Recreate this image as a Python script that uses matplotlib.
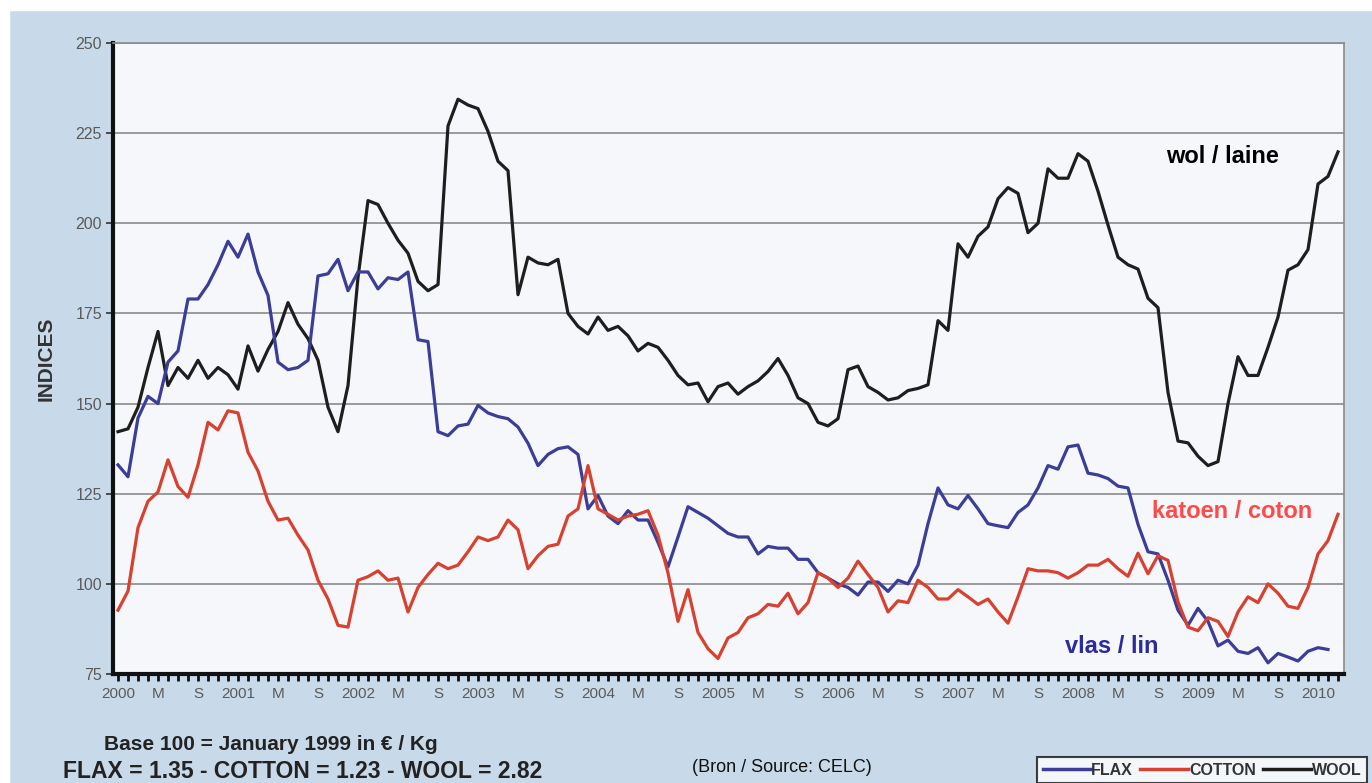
import numpy as np
import matplotlib.pyplot as plt
from matplotlib.patches import Rectangle
from matplotlib.lines import Line2D

plt.rcParams['font.family'] = ['Liberation Sans', 'DejaVu Sans']

# monthly index values, month 0 = January 2000
flax = [133, 129.7, 146, 152, 150, 161.5, 164.6, 179, 179, 183, 188.5, 195, 190.6, 197, 186.5, 180, 161.5, 159.4, 160, 162, 185.4,
        186, 190, 181.3, 186.5, 186.5, 181.8, 184.9, 184.4, 186.5, 167.7, 167.2, 142.2, 141.1, 143.8, 144.3, 149.5, 147.4, 146.4, 145.8, 143.5,
        139, 132.8, 135.9, 137.5, 138, 135.9, 120.8, 124.5, 118.8, 116.7, 120.3, 117.7, 117.7, 111.5, 104.7, 113, 121.4, 119.8, 118.2, 116.1, 114,
        113, 113, 108.3, 110.4, 109.9, 109.9, 106.8, 106.8, 103.1, 101.6, 100, 99, 96.9, 100.5, 100.5, 97.9, 101, 100, 105.2, 116.7,
        126.6, 121.9, 120.8, 124.5, 120.8, 116.7, 116.1, 115.6, 119.8, 121.9, 126.6, 132.8, 131.8, 138, 138.5, 130.7, 130.2, 129.2, 127.1, 126.6, 116.5,
        108.9, 108.3, 101, 92.7, 88.5, 93.2, 89.6, 82.8, 84.4, 81.3, 80.7, 82.3, 78.1, 80.7, 79.7, 78.6, 81.3, 82.3, 81.8]

cotton = [92.7, 98, 115.6, 122.9, 125.5, 134.4, 127, 124, 133, 144.8, 142.7, 148, 147.4, 136.5, 131.3, 122.9, 117.7, 118.2, 113.5, 109.4, 101,
          95.8, 88.5, 88, 101, 102, 103.6, 101, 101.6, 92.2, 99, 102.6, 105.7, 104.2, 105.2, 108.9, 113, 112, 113, 117.7, 115,
          104.2, 107.8, 110.4, 111, 118.8, 120.8, 132.8, 120.8, 119.3, 117.7, 118.8, 119.3, 120.3, 113.5, 103, 89.6, 98.4, 86.5, 82, 79.3, 85,
          86.5, 90.6, 91.7, 94.3, 93.8, 97.4, 91.7, 94.8, 103.1, 101.6, 99, 101.6, 106.3, 102.6, 99, 92.2, 95.3, 94.8, 101, 99,
          95.8, 95.8, 98.4, 96.4, 94.3, 95.8, 92.2, 89.1, 96.4, 104.2, 103.6, 103.6, 103.1, 101.6, 103.1, 105.2, 105.2, 106.8, 104.2, 102.1, 108.5,
          102.8, 107.8, 106.5, 95, 88, 87, 90.6, 89.6, 85.4, 92.2, 96.4, 94.8, 100, 97.4, 93.8, 93.2, 99, 108.3, 112, 119.3]

wool = [142.2, 143, 149, 160, 170, 155, 160, 157, 162, 157, 160, 158, 154, 166, 159, 165, 170, 178, 172, 168, 162,
        149, 142.2, 155, 185, 206.3, 205.2, 200, 195.3, 191.7, 183.9, 181.3, 183, 227, 234.4, 232.8, 231.8, 225.5, 217.2, 214.6, 180.2,
        190.6, 189, 188.5, 190, 175, 171.4, 169.3, 174, 170.3, 171.4, 168.8, 164.6, 166.7, 165.6, 162, 157.8, 155.2, 155.7, 150.5, 154.7, 155.7,
        152.6, 154.7, 156.3, 158.9, 162.5, 157.8, 151.6, 150, 144.8, 143.8, 145.8, 159.4, 160.4, 154.7, 153.1, 151, 151.6, 153.6, 154.2, 155.2,
        173, 170.3, 194.3, 190.6, 196.4, 199, 206.8, 209.9, 208.3, 197.4, 200, 215.1, 212.5, 212.5, 219.3, 217.2, 208.9, 199.5, 190.6, 188.5, 187.3,
        179.2, 176.6, 153.1, 139.6, 139.1, 135.4, 132.8, 133.9, 150, 163, 157.8, 157.8, 165.6, 174, 187, 188.5, 192.7, 210.9, 213, 219.8]

years = [str(y) for y in range(2000, 2011)]
tick_labels = []
for y in years:
    tick_labels += [y, 'M', 'S']
tick_labels = tick_labels[:31]

fig = plt.figure(figsize=(13.72, 7.83), dpi=100)
fig.patch.set_facecolor('#c8dae9')
# white margin strips of the scan
fig.patches.append(Rectangle((0, 1 - 10 / 783), 1, 10 / 783, transform=fig.transFigure, color='white', zorder=0))
fig.patches.append(Rectangle((0, 0), 9 / 1372, 1, transform=fig.transFigure, color='white', zorder=0))

ax = fig.add_axes([113 / 1372, 109 / 783, 1231 / 1372, 631 / 783])
ax.set_facecolor('#f5f7fa')

ax.plot(np.arange(len(wool)), wool, color='#1e1e1e', lw=2.3, solid_joinstyle='round', zorder=3)
ax.plot(np.arange(len(flax)), flax, color='#3b3d97', lw=2.3, solid_joinstyle='round', zorder=4)
ax.plot(np.arange(len(cotton)), cotton, color='#d8402f', lw=2.3, solid_joinstyle='round', zorder=5)

ax.set_xlim(-0.5, 122.6)
ax.set_ylim(75, 250)
ax.set_yticks(range(75, 251, 25))
ax.yaxis.grid(True, color='#8a8a8a', lw=1.2)
ax.set_axisbelow(True)

ax.set_xticks(np.arange(0, 121, 4))
ax.set_xticklabels(tick_labels)
ax.set_xticks(np.arange(0, 123, 1), minor=True)
ax.tick_params(axis='x', which='both', direction='out', length=5, width=2, color='#111111',
               labelsize=11, labelcolor='#5a5a5a', pad=4)
ax.tick_params(axis='y', direction='out', length=5, width=1.2, color='#333333',
               labelsize=11.5, labelcolor='#5a5a5a', pad=3)

ax.spines['left'].set_linewidth(3)
ax.spines['left'].set_color('#111111')
ax.spines['bottom'].set_linewidth(3)
ax.spines['bottom'].set_color('#111111')
ax.spines['top'].set_color('#8a8a8a')
ax.spines['top'].set_linewidth(1.2)
ax.spines['right'].set_color('#8a8a8a')
ax.spines['right'].set_linewidth(1.2)

ax.set_ylabel('INDICES', fontsize=15, fontweight='bold', color='#333333', labelpad=14)

ax.text(110.4, 218.4, 'wol / laine', fontsize=17, fontweight='bold', color='black', ha='center', va='center')
ax.text(111.4, 120.2, 'katoen / coton', fontsize=17, fontweight='bold', color='#ff4a4a', ha='center', va='center')
ax.text(99.4, 82.5, 'vlas / lin', fontsize=17, fontweight='bold', color='#2b2b9c', ha='center', va='center')

fig.text(271 / 1372, 1 - 745 / 783, 'Base 100 = January 1999 in € / Kg', fontsize=15,
         fontweight='bold', color='#222222', ha='center', va='center')
fig.text(303 / 1372, 1 - 772 / 783, 'FLAX = 1.35 - COTTON = 1.23 - WOOL = 2.82', fontsize=16.5,
         fontweight='bold', color='#222222', ha='center', va='center')
fig.text(782 / 1372, 1 - 768 / 783, '(Bron / Source: CELC)', fontsize=13, color='#111111',
         ha='center', va='center')

handles = [Line2D([], [], color='#3b3d97', lw=2.5),
           Line2D([], [], color='#d8402f', lw=2.5),
           Line2D([], [], color='#1e1e1e', lw=2.5)]
leg = fig.legend(handles, ['FLAX', 'COTTON', 'WOOL'], loc='upper left',
                 bbox_to_anchor=(1037 / 1372, 1 - 757 / 783), ncol=3, frameon=True, fancybox=False,
                 edgecolor='#111111', handlelength=3.0, handletextpad=0.05, columnspacing=0.45,
                 borderpad=0.35, borderaxespad=0, prop={'weight': 'bold', 'size': 11.5})
leg.get_frame().set_linewidth(1.5)
for t in leg.get_texts():
    t.set_color('#333333')

fig.savefig('out.png', dpi=100, facecolor=fig.get_facecolor())
